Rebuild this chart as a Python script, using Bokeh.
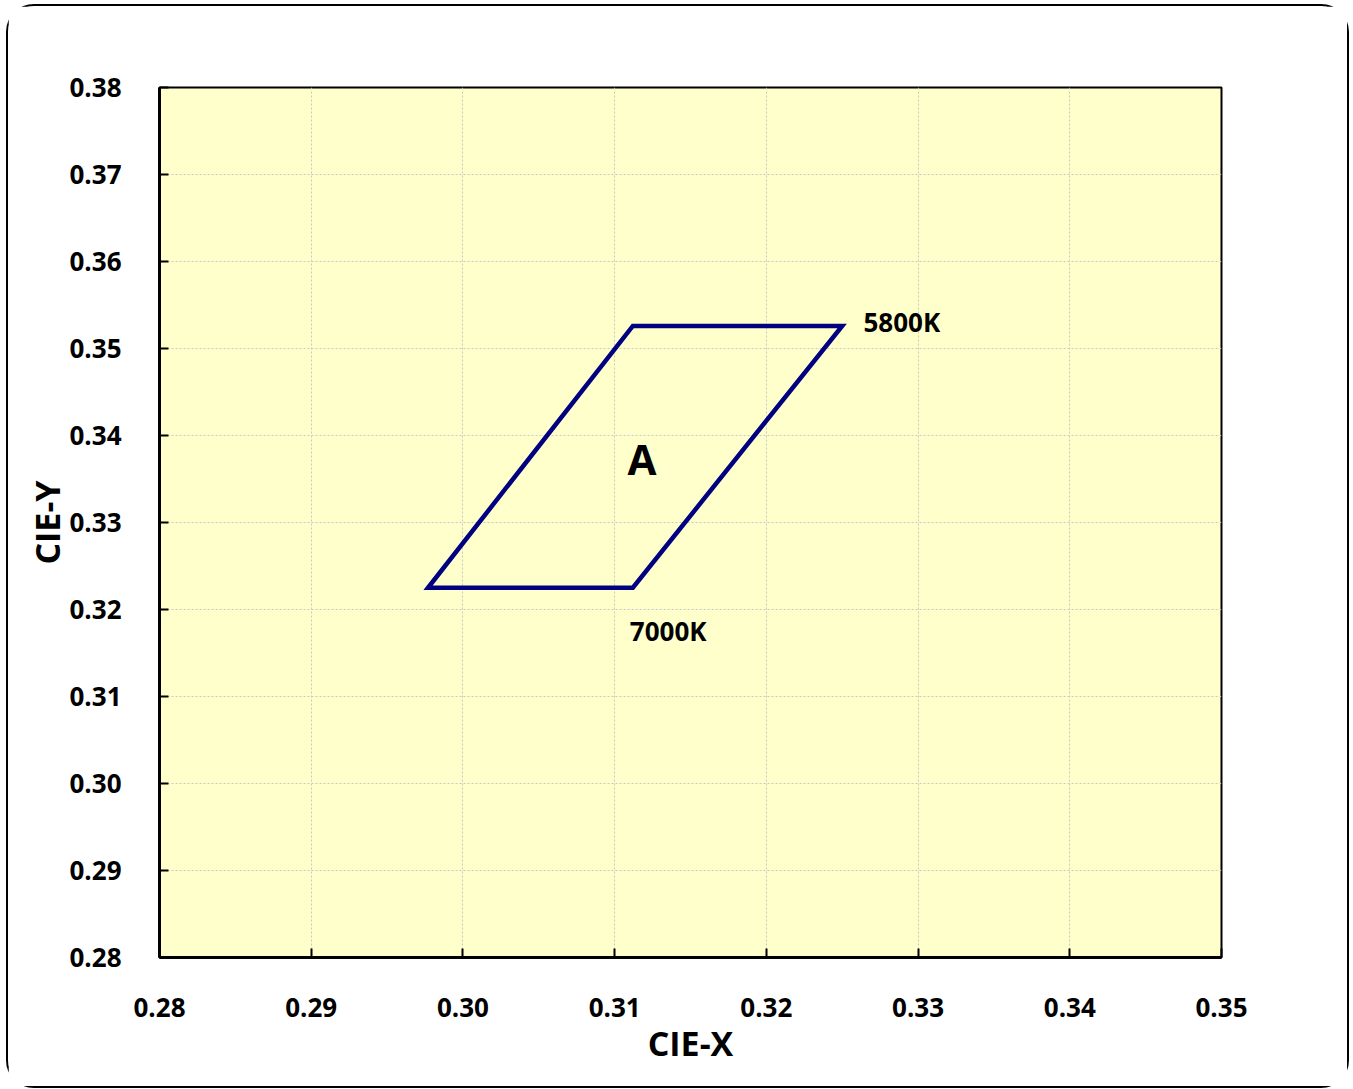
from bokeh.plotting import figure
from bokeh.models import ColumnDataSource, FixedTicker, Range1d
from bokeh.core.properties import value
from bokeh.embed import file_html
from bokeh.resources import INLINE

# Quadrangle vertices (CIE x, y)
quad_x = [0.2977, 0.3112, 0.3250, 0.3112]
quad_y = [0.3225, 0.3526, 0.3526, 0.3225]

# Annotations
label_x = [0.3264, 0.3110]
label_y = [0.3531, 0.3175]
label_text = ["5800K", "7000K"]
area_x = [0.3118]
area_y = [0.3374]
area_text = ["A"]

x_ticks = [0.28, 0.29, 0.30, 0.31, 0.32, 0.33, 0.34, 0.35]
y_ticks = [0.28, 0.29, 0.30, 0.31, 0.32, 0.33, 0.34, 0.35, 0.36, 0.37, 0.38]

FONT = "Open Sans"

p = figure(width=1343, height=1084, output_backend="svg", toolbar_location=None,
           x_range=Range1d(0.28, 0.35), y_range=Range1d(0.28, 0.38),
           min_border_left=151, min_border_right=130, min_border_top=81, min_border_bottom=133,
           background_fill_color="#FFFFCC", border_fill_color="white",
           x_axis_label="CIE-X", y_axis_label="CIE-Y",
           styles={"border": "2px solid black", "border-radius": "28px",
                   "margin-left": "6px", "margin-top": "4px"})

p.outline_line_color = "black"
p.outline_line_width = 2

for ax in (p.xaxis[0], p.yaxis[0]):
    ax.axis_line_width = 3
    ax.axis_line_color = "black"
    ax.major_tick_in = 9
    ax.major_tick_out = 0
    ax.major_tick_line_width = 2
    ax.minor_tick_line_color = None
    ax.major_label_text_font = FONT
    ax.major_label_text_font_style = "bold"
    ax.major_label_text_font_size = "26px"
    ax.major_label_text_color = "black"
    ax.axis_label_text_font = FONT
    ax.axis_label_text_font_style = "bold"
    ax.axis_label_text_font_size = "34px"
    ax.axis_label_text_color = "black"

p.xaxis[0].ticker = FixedTicker(ticks=x_ticks)
p.yaxis[0].ticker = FixedTicker(ticks=y_ticks)
p.xaxis[0].major_label_overrides = {t: f"{t:.2f}" for t in x_ticks}
p.yaxis[0].major_label_overrides = {t: f"{t:.2f}" for t in y_ticks}
p.xaxis[0].major_label_standoff = 40
p.yaxis[0].major_label_standoff = 38
p.xaxis[0].axis_label_standoff = 0
p.yaxis[0].axis_label_standoff = -4

for g in (p.xgrid[0], p.ygrid[0]):
    g.grid_line_color = "#C8C8C8"
    g.grid_line_dash = "2 2"
    g.grid_line_width = 1
    g.ticker = FixedTicker(ticks=x_ticks if g is p.xgrid[0] else y_ticks)

src = ColumnDataSource(dict(x=quad_x, y=quad_y))
p.patch("x", "y", source=src, fill_color=None, line_color="#000080", line_width=4.5, line_join="miter")

lsrc = ColumnDataSource(dict(x=label_x, y=label_y, t=label_text))
p.text("x", "y", text="t", source=lsrc, text_font=value(FONT), text_font_style="bold",
       text_font_size="26px", text_baseline="middle", text_align="left", text_color="black")

asrc = ColumnDataSource(dict(x=area_x, y=area_y, t=area_text))
p.text("x", "y", text="t", source=asrc, text_font=value(FONT), text_font_style="bold",
       text_font_size="42px", text_baseline="middle", text_align="center", text_color="black")

open("out.html", "w").write(file_html(p, INLINE))
